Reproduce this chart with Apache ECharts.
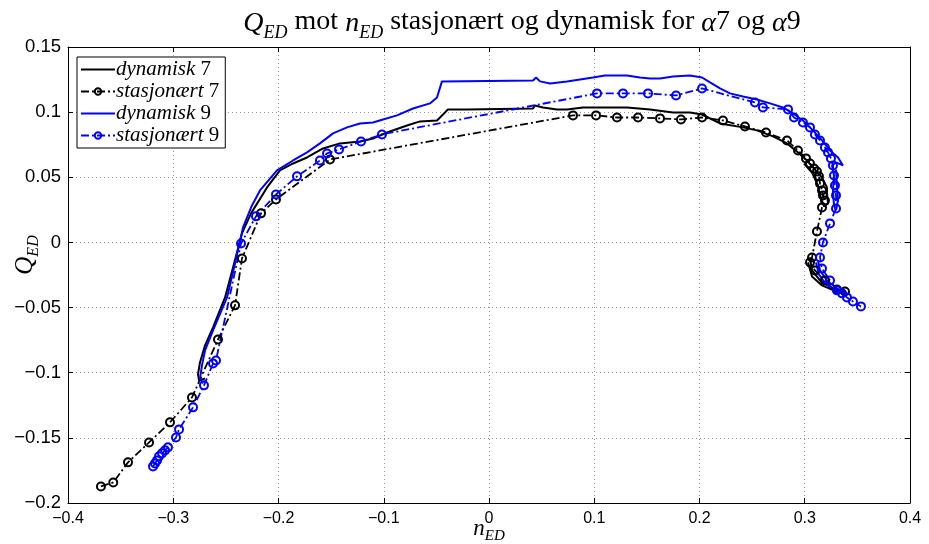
<!DOCTYPE html>
<html>
<head>
<meta charset="utf-8">
<script src="https://cdn.jsdelivr.net/npm/echarts@6/dist/echarts.min.js"></script>
<style>html,body{margin:0;padding:0;background:#fff}#c{width:929px;height:544px}</style>
</head>
<body>
<div id="c"></div>
<script>
// Data: [n_ED, Q_ED]
const GAP = ['-', '-'];
const dynamisk7 = [
  [-0.2698,-0.1044],[-0.2755,-0.1059],[-0.2765,-0.1013],[-0.2746,-0.0921],[-0.2698,-0.0790],
  [-0.2622,-0.0652],[-0.2508,-0.0422],[-0.2432,-0.0192],[-0.2347,0.0069],[-0.2261,0.0223],
  [-0.2109,0.0422],[-0.1986,0.0553],[-0.1862,0.0606],[-0.1729,0.0652],[-0.1577,0.0721],
  [-0.1416,0.0760],[-0.1226,0.0775],[-0.1102,0.0798],[-0.0969,0.0844],[-0.0779,0.0898],
  [-0.0656,0.0929],[-0.0494,0.0936],[-0.0437,0.0982],[-0.0390,0.1021],[-0.0209,0.1021],
  [0.0418,0.1028],[0.0437,0.1051],[0.0513,0.1036],[0.0646,0.1021],[0.0741,0.1021],
  [0.0893,0.1036],[0.1311,0.1036],[0.1530,0.1021],[0.1748,0.0998],[0.1910,0.0998],
  [0.2024,0.0982],[0.2195,0.0913],[0.2413,0.0883],[0.2546,0.0860],[0.2698,0.0814],
  [0.2831,0.0760],[0.2936,0.0691],[0.3021,0.0629],[0.3078,0.0576],[0.3164,0.0499],
  [0.3211,0.0422],[0.3211,0.0376],[0.3221,0.0299],[0.3183,0.0276],[0.3145,0.0361],
  [0.3126,0.0437],[0.3069,0.0537],[0.2993,0.0606],
  GAP,
  [0.3050,-0.0123],[0.3069,-0.0215],[0.3145,-0.0292],[0.3268,-0.0353],[0.3382,-0.0384],
  [0.3297,-0.0376],[0.3164,-0.0330],[0.3069,-0.0261],[0.3031,-0.0153]
];
const stasjonaert7 = [
  [-0.3687,-0.1873],[-0.3570,-0.1842],[-0.3430,-0.1688],[-0.3230,-0.1535],[-0.3031,-0.1381],
  [-0.2822,-0.1190],[-0.2575,-0.0745],[-0.2413,-0.0483],[-0.2347,-0.0123],[-0.2166,0.0223],
  [-0.2024,0.0330],[-0.1511,0.0637],[0.0798,0.0975],[0.1017,0.0975],[0.1216,0.0959],
  [0.1416,0.0959],[0.1625,0.0952],[0.1824,0.0944],[0.2024,0.0959],[0.2223,0.0936],
  [0.2432,0.0890],[0.2632,0.0844],[0.2831,0.0783],[0.2936,0.0706],[0.3012,0.0645],
  [0.3050,0.0606],[0.3088,0.0568],[0.3116,0.0545],[0.3135,0.0507],[0.3145,0.0453],
  [0.3164,0.0399],[0.3173,0.0361],[0.3192,0.0322],[0.3164,0.0269],[0.3116,0.0084],
  [0.3069,-0.0115],[0.3050,-0.0153],[0.3097,-0.0215],[0.3192,-0.0292],[0.3306,-0.0361],
  [0.3382,-0.0376]
];
const dynamisk9 = [
  [-0.2717,-0.1082],[-0.2746,-0.1044],[-0.2727,-0.0944],[-0.2698,-0.0829],[-0.2622,-0.0675],
  [-0.2489,-0.0422],[-0.2413,-0.0161],[-0.2337,0.0115],[-0.2252,0.0284],[-0.2176,0.0399],
  [-0.2014,0.0553],[-0.1862,0.0629],[-0.1729,0.0691],[-0.1606,0.0760],[-0.1482,0.0837],
  [-0.1349,0.0883],[-0.1226,0.0913],[-0.1102,0.0921],[-0.1007,0.0944],[-0.0874,0.0975],
  [-0.0722,0.1028],[-0.0561,0.1067],[-0.0494,0.1113],[-0.0447,0.1236],[-0.0437,0.1243],
  [0.0418,0.1243],[0.0447,0.1266],[0.0485,0.1236],[0.0580,0.1220],[0.0741,0.1236],
  [0.0865,0.1251],[0.0988,0.1266],[0.1102,0.1282],[0.1311,0.1282],[0.1435,0.1266],
  [0.1530,0.1259],[0.1625,0.1259],[0.1748,0.1274],[0.1910,0.1282],[0.2024,0.1266],
  [0.2100,0.1228],[0.2195,0.1182],[0.2290,0.1144],[0.2413,0.1120],[0.2546,0.1097],
  [0.2670,0.1067],[0.2793,0.1036],[0.2888,0.0990],[0.2983,0.0936],[0.3078,0.0860],
  [0.3164,0.0783],[0.3240,0.0706],[0.3316,0.0652],[0.3363,0.0591],[0.3297,0.0614],
  [0.3259,0.0591],[0.3278,0.0514],[0.3268,0.0399],[0.3278,0.0284],[0.3297,0.0246],
  [0.3316,0.0322],[0.3306,0.0437],[0.3297,0.0560],
  GAP,
  [0.3126,-0.0138],[0.3145,-0.0215],[0.3211,-0.0292],[0.3306,-0.0353],[0.3382,-0.0391],
  [0.3316,-0.0376],[0.3202,-0.0322],[0.3135,-0.0246],[0.3107,-0.0154]
];
const stasjonaert9 = [
  [-0.3192,-0.1719],[-0.3173,-0.1696],[-0.3154,-0.1673],[-0.3135,-0.1642],[-0.3107,-0.1619],
  [-0.3078,-0.1596],[-0.3050,-0.1573],[-0.2974,-0.1497],[-0.2945,-0.1435],[-0.2812,-0.1266],
  [-0.2708,-0.1097],[-0.2622,-0.0929],[-0.2594,-0.0906],[-0.2356,-0.0008],[-0.2214,0.0200],
  [-0.2024,0.0368],[-0.1824,0.0507],[-0.1606,0.0629],[-0.1539,0.0683],[-0.1425,0.0714],
  [-0.1216,0.0775],[-0.1017,0.0829],[0.1026,0.1144],[0.1273,0.1144],[0.1511,0.1144],
  [0.1777,0.1128],[0.2024,0.1182],[0.2527,0.1074],[0.2603,0.1036],[0.2841,0.1021],
  [0.2898,0.0959],[0.2983,0.0921],[0.3050,0.0883],[0.3097,0.0829],[0.3145,0.0783],
  [0.3192,0.0729],[0.3221,0.0691],[0.3249,0.0645],[0.3268,0.0591],[0.3278,0.0514],
  [0.3287,0.0437],[0.3297,0.0361],[0.3297,0.0261],[0.3240,0.0146],[0.3173,0.0000],
  [0.3145,-0.0115],[0.3164,-0.0200],[0.3240,-0.0292],[0.3306,-0.0368],[0.3354,-0.0391],
  [0.3401,-0.0422],[0.3458,-0.0453],[0.3534,-0.0491]
];
const xTicks = { min: -0.4, max: 0.4, interval: 0.1 };
const yTicks = { min: -0.2, max: 0.15, interval: 0.05 };

const SERIF = '"Liberation Serif","DejaVu Serif",serif';
const SANS = '"Liberation Sans",Arial,sans-serif';
const fmt = v => { const r = Math.round(v * 100) / 100; return (r < 0 ? '\u2212' : '') + String(Math.abs(r)); };
const DASHDOT = [8, 3, 2, 3];
const LINE_ICON = 'path://M0,0 L34,0 L34,2.2 L0,2.2 Z';

const mathRich = (big, small) => ({
  i: { fontFamily: SERIF, fontSize: big, fontStyle: 'italic', color: '#000', lineHeight: big + 5, verticalAlign: 'bottom' },
  s: { fontFamily: SERIF, fontSize: small, fontStyle: 'italic', color: '#000', lineHeight: small, verticalAlign: 'bottom', padding: [0, 0, -4, 0] }
});

const chart = echarts.init(document.getElementById('c'), null, { renderer: 'canvas' });
const axisCommon = {
  type: 'value',
  axisLine: { show: true, onZero: false, lineStyle: { color: '#000', width: 1 } },
  axisTick: { show: true, inside: true, length: 5, lineStyle: { color: '#000' } },
};
chart.setOption({
  animation: false,
  backgroundColor: '#fff',
  title: {
    text: '{i|Q}{s|ED} mot {i|n}{s|ED} stasjonært og dynamisk for {i|α}7 og {i|α}9',
    left: 517, top: 0, textAlign: 'center',
    textStyle: {
      fontFamily: SERIF, fontSize: 28, fontWeight: 'normal', color: '#000',
      rich: mathRich(28, 18)
    }
  },
  grid: { left: 68, right: 19, top: 47, bottom: 41, containLabel: false, outerBoundsMode: 'none' },
  legend: {
    left: 77, top: 57, orient: 'vertical',
    backgroundColor: '#fff', borderColor: '#000', borderWidth: 1,
    padding: [2, 6, 2, 3], itemGap: 1, itemWidth: 34, itemHeight: 8,
    data: [
      { name: 'dynamisk 7', icon: LINE_ICON },
      { name: 'stasjonært 7' },
      { name: 'dynamisk 9', icon: LINE_ICON },
      { name: 'stasjonært 9' }
    ],
    formatter: n => { const p = n.split(' '); return '{it|' + p[0] + '} ' + p[1]; },
    textStyle: {
      fontFamily: SERIF, fontSize: 21, color: '#000', padding: [0, 0, 0, -4], lineHeight: 21,
      rich: { it: { fontFamily: SERIF, fontSize: 21, fontStyle: 'italic', color: '#000', lineHeight: 21 } }
    }
  },
  xAxis: [
    Object.assign({}, axisCommon, {
      min: xTicks.min, max: xTicks.max, interval: xTicks.interval, position: 'bottom',
      axisLabel: { formatter: fmt, fontFamily: SANS, fontSize: 16, color: '#000', margin: 8 },
      splitLine: { show: true, lineStyle: { type: [1, 3], color: '#999', width: 1 } },
      name: '{i|n}{s|ED}', nameLocation: 'middle', nameGap: 9, nameMoveOverlap: false,
      nameTextStyle: { fontFamily: SERIF, fontSize: 23, color: '#000', rich: mathRich(23, 15) }
    }),
    Object.assign({}, axisCommon, {
      min: xTicks.min, max: xTicks.max, interval: xTicks.interval, position: 'top',
      axisLabel: { show: false }, splitLine: { show: false }
    })
  ],
  yAxis: [
    Object.assign({}, axisCommon, {
      min: yTicks.min, max: yTicks.max, interval: yTicks.interval, position: 'left',
      axisLabel: { formatter: fmt, fontFamily: SANS, fontSize: 18.5, color: '#000', margin: 7 },
      splitLine: { show: true, lineStyle: { type: [1, 3], color: '#999', width: 1 } },
      name: '{i|Q}{s|ED}', nameLocation: 'middle', nameGap: 30, nameRotate: 90, nameMoveOverlap: false,
      nameTextStyle: { fontFamily: SERIF, fontSize: 25, color: '#000', padding: [0, 0, 0, 40], rich: mathRich(25, 16) }
    }),
    Object.assign({}, axisCommon, {
      min: yTicks.min, max: yTicks.max, interval: yTicks.interval, position: 'right',
      axisLabel: { show: false }, splitLine: { show: false }
    })
  ],
  series: [
    { name: 'dynamisk 7', type: 'line', data: dynamisk7, showSymbol: false, symbol: 'none',
      lineStyle: { color: '#000', width: 2 }, itemStyle: { color: '#000' }, connectNulls: false },
    { name: 'stasjonært 7', type: 'line', data: stasjonaert7, symbol: 'circle', symbolSize: 8, showSymbol: true,
      lineStyle: { color: '#000', width: 1.8, type: DASHDOT },
      itemStyle: { color: 'rgba(255,255,255,0)', borderColor: '#000', borderWidth: 2 } },
    { name: 'dynamisk 9', type: 'line', data: dynamisk9, showSymbol: false, symbol: 'none',
      lineStyle: { color: '#0000ff', width: 2 }, itemStyle: { color: '#0000ff' }, connectNulls: false },
    { name: 'stasjonært 9', type: 'line', data: stasjonaert9, symbol: 'circle', symbolSize: 8, showSymbol: true,
      lineStyle: { color: '#0000ff', width: 1.8, type: DASHDOT },
      itemStyle: { color: 'rgba(255,255,255,0)', borderColor: '#0000ff', borderWidth: 2 } }
  ]
});
</script>
</body>
</html>
